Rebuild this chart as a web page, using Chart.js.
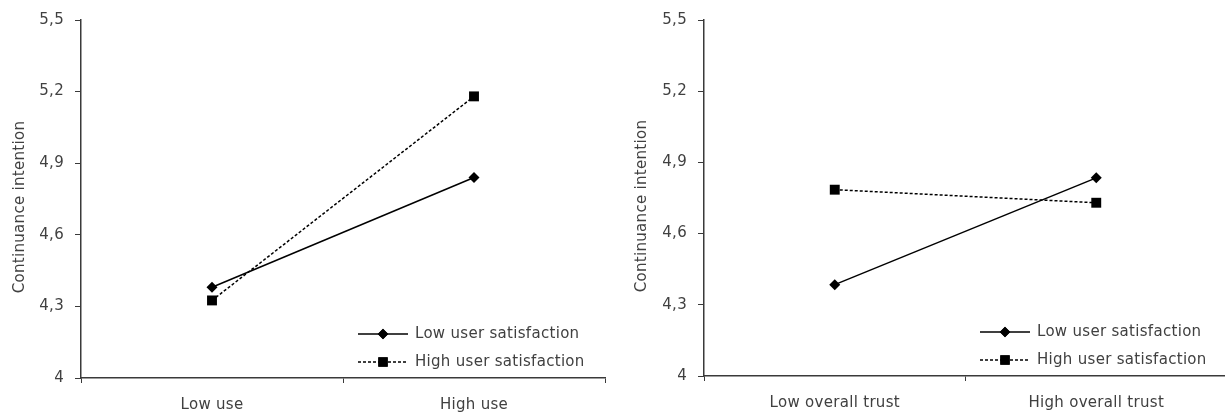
<!DOCTYPE html>
<html>
<head>
<meta charset="utf-8">
<script src="https://cdn.jsdelivr.net/npm/chart.js@4.4.1/dist/chart.umd.min.js"></script>
<style>
  html, body { margin: 0; padding: 0; background: #fff; overflow: hidden; }
  .panel { position: absolute; top: 0; height: 415px; }
  #left { left: 0; width: 612px; }
  #right { left: 612px; width: 622px; }
</style>
</head>
<body>
<div class="panel" id="left"><canvas id="c1"></canvas></div>
<div class="panel" id="right"><canvas id="c2"></canvas></div>
<script>
// data
const useLabels = ["Low use", "High use"];
const trustLabels = ["Low overall trust", "High overall trust"];
const seriesNames = ["Low user satisfaction", "High user satisfaction"];

const useLowSat = [4.38, 4.84];
const useHighSat = [4.325, 5.18];
const trustLowSat = [4.385, 4.835];
const trustHighSat = [4.785, 4.73];

const yTickValues = [4, 4.3, 4.6, 4.9, 5.2, 5.5];
const yTickLabels = ["4", "4,3", "4,6", "4,9", "5,2", "5,5"];
const yTitle = "Continuance intention";

const FONT = "'DejaVu Sans', sans-serif";
const FSIZE = 15;
const SPACING = "0.3px";
const TEXT = "#404040";
const AXIS = "#3a3a3a";

const seriesStyle = [
  { pointStyle: "rectRot", radius: 5.5, dash: [] },
  { pointStyle: "rect", radius: 7, dash: [3, 2] },
];

// wider letter spacing for all chart text
const spacingPlugin = {
  id: "spacing",
  beforeDraw(chart) { chart.ctx.letterSpacing = SPACING; },
};

// rotated y title, a bit below the plot centre like the original
const yTitlePlugin = {
  id: "yTitle",
  afterDraw(chart, args, opts) {
    const { ctx, chartArea } = chart;
    const cy = (chartArea.top + chartArea.bottom) / 2 + 8;
    ctx.save();
    ctx.letterSpacing = SPACING;
    ctx.translate(opts.x, cy);
    ctx.rotate(-Math.PI / 2);
    ctx.fillStyle = TEXT;
    ctx.font = FSIZE + "px " + FONT;
    ctx.textAlign = "center";
    ctx.textBaseline = "middle";
    ctx.fillText(yTitle, 0, 0);
    ctx.restore();
  },
};

// legend in the lower right of the plot area: line with marker, then label
const legendPlugin = {
  id: "lineLegend",
  afterDraw(chart) {
    const { ctx, chartArea } = chart;
    const x0 = chartArea.right - 247;
    const rows = [chartArea.bottom - 44, chartArea.bottom - 16];
    ctx.save();
    chart.data.datasets.forEach((ds, i) => {
      const y = rows[i];
      ctx.strokeStyle = "#000";
      ctx.lineWidth = 1.3;
      ctx.setLineDash(ds.borderDash || []);
      ctx.beginPath();
      ctx.moveTo(x0, y);
      ctx.lineTo(x0 + 50, y);
      ctx.stroke();
      ctx.setLineDash([]);
      ctx.fillStyle = "#000";
      Chart.helpers.drawPoint(ctx, {
        pointStyle: ds.pointStyle,
        radius: ds.legendRadius,
        rotation: 0,
        borderWidth: 0,
      }, x0 + 25, y);
      ctx.fill();
      ctx.fillStyle = TEXT;
      ctx.letterSpacing = SPACING;
      ctx.font = FSIZE + "px " + FONT;
      ctx.textBaseline = "middle";
      ctx.textAlign = "left";
      ctx.fillText(ds.label, x0 + 57, y);
    });
    ctx.restore();
  },
};

function makeChart(id, labels, lowVals, highVals, pad) {
  const datasets = [lowVals, highVals].map((vals, i) => ({
    label: seriesNames[i],
    data: vals,
    borderColor: "#000",
    backgroundColor: "#000",
    borderWidth: 1.5,
    borderDash: seriesStyle[i].dash,
    pointStyle: seriesStyle[i].pointStyle,
    pointRadius: seriesStyle[i].radius,
    legendRadius: seriesStyle[i].radius * 0.95,
    pointBorderWidth: 0,
    tension: 0,
  }));

  return new Chart(document.getElementById(id), {
    type: "line",
    data: { labels, datasets },
    options: {
      responsive: true,
      maintainAspectRatio: false,
      animation: false,
      layout: { padding: { left: 0, right: pad.right, top: pad.top, bottom: 0 } },
      plugins: {
        legend: { display: false },
        tooltip: { enabled: false },
        yTitle: { x: pad.titleX },
      },
      scales: {
        x: {
          type: "category",
          offset: true,
          afterFit(scale) { scale.height = pad.xHeight; },
          grid: {
            offset: true,
            drawOnChartArea: false,
            drawTicks: true,
            tickLength: 5,
            color: AXIS,
          },
          border: { display: true, color: AXIS, width: 1.5 },
          ticks: { color: TEXT, font: { family: FONT, size: FSIZE }, padding: 13, maxRotation: 0 },
        },
        y: {
          min: 4,
          max: 5.5,
          afterFit(scale) { scale.width = pad.yWidth; },
          afterBuildTicks(scale) {
            scale.ticks = yTickValues.map(v => ({ value: v }));
          },
          grid: {
            drawOnChartArea: false,
            drawTicks: true,
            tickLength: 6,
            color: AXIS,
          },
          border: { display: true, color: AXIS, width: 1.5 },
          ticks: {
            color: TEXT,
            font: { family: FONT, size: FSIZE },
            padding: 11,
            callback: (v) => {
              const k = yTickValues.findIndex(t => Math.abs(t - v) < 1e-6);
              return k >= 0 ? yTickLabels[k] : "";
            },
          },
        },
      },
    },
    plugins: [spacingPlugin, yTitlePlugin, legendPlugin],
  });
}

makeChart("c1", useLabels, useLowSat, useHighSat,
  { right: 2, top: 17, xHeight: 37, yWidth: 81, titleX: 20 });
makeChart("c2", trustLabels, trustLowSat, trustHighSat,
  { right: 2, top: 15, xHeight: 39, yWidth: 92, titleX: 30 });
</script>
</body>
</html>
